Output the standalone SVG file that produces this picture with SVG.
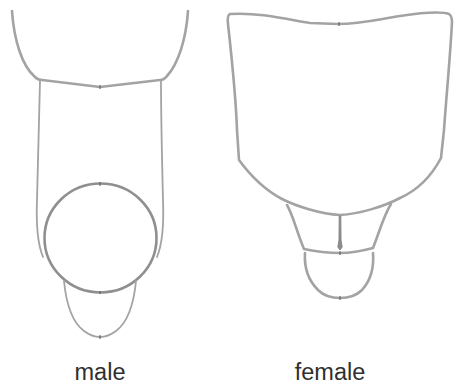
<svg xmlns="http://www.w3.org/2000/svg" width="457" height="386" viewBox="0 0 457 386">
  <style>
    .seg { fill: none; stroke: #a3a3a3; stroke-linecap: round; stroke-linejoin: round; }
    .thin { stroke-width: 1.8; }
    .thick { stroke-width: 2.6; }
    .dark { stroke: #8f8f8f; }
    .tick { stroke: #555; stroke-width: 1; }
    .label { font-family: "Liberation Sans", Arial, sans-serif; font-size: 23.5px; fill: #2f2f2f; text-anchor: middle; }
  </style>
  <rect width="457" height="386" fill="#ffffff"/>

  <!-- male abdomen tip -->
  <g id="male">
    <path class="seg thick" d="M12,11 C14,40 22,66 35,77 Q38,80 42,80 L100,87 L160,80 Q164,80 167,76 C178,64 186,40 188,11"/>
    <path class="seg thin" d="M40,81 C39,120 38,160 37,200 C36,225 38,245 43,257"/>
    <path class="seg thin" d="M161,81 C161,120 162,160 163,200 C164,225 162,245 157,257"/>
    <ellipse class="seg thick dark" cx="100.5" cy="238" rx="56" ry="54.5"/>
    <path class="seg thin" d="M64,281 C66,302 72,322 84,331 Q92,337 100,337 Q108,337 116,331 C128,322 134,302 136,281"/>
    <line class="tick" x1="100" y1="85" x2="100" y2="89"/>
    <line class="tick" x1="100" y1="182" x2="100" y2="186"/>
    <line class="tick" x1="100" y1="291" x2="100" y2="294"/>
    <line class="tick" x1="100" y1="335" x2="100" y2="339"/>
  </g>

  <!-- female abdomen tip -->
  <g id="female">
    <path class="seg thick" d="M230,14 C260,12 290,20 310,23 L338,24 C360,24 375,20 400,16 C420,13 440,11 449,14 Q452,16 452,22 C450,60 446,100 444,130 L441,158 C432,175 418,190 400,198 C385,206 360,214 340,215 C320,214 296,206 282,199 C265,190 250,175 239,160 L237,130 C236,100 232,60 228,24 Q227,15 230,14 Z"/>
    <path class="seg thick" d="M287,205 C293,215 296,230 304,249 C318,252 330,253 340,253 C352,253 362,251 373,248 C380,230 384,215 391,204"/>
    <path class="seg thick" d="M305,253 C304,268 308,280 318,290 Q326,298 340,298 Q354,298 362,290 C371,280 374,266 373,253"/>
    <path d="M339.2,216 L340.8,216 L341,240 L342.2,247 L340,250 L337.8,247 L339,240 Z" fill="#8a8a8a" stroke="#8a8a8a" stroke-width="1"/>
    <line class="tick" x1="339" y1="22" x2="339" y2="26"/>
    <line class="tick" x1="340" y1="251" x2="340" y2="255"/>
    <line class="tick" x1="340" y1="296" x2="340" y2="300"/>
  </g>

  <text class="label" x="100" y="380">male</text>
  <text class="label" x="330" y="380">female</text>
</svg>
